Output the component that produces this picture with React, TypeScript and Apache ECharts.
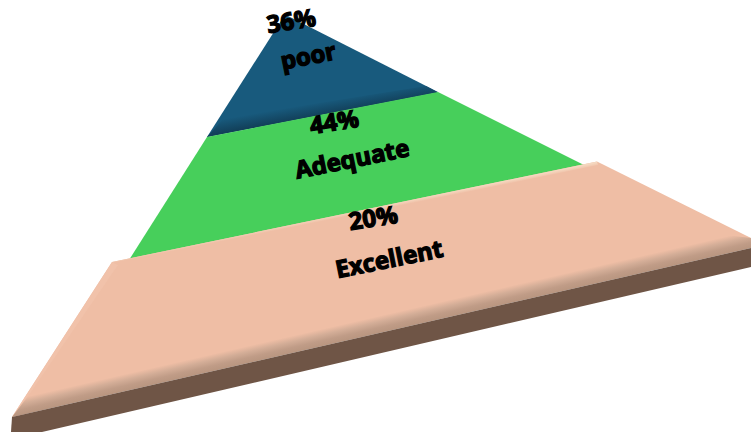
import React, { useEffect, useRef } from "react";
import * as echarts from "echarts";

// Tier names and the share printed on each tier, apex first.
const tierNames = ["poor", "Adequate", "Excellent"];
const tierShares = ["36%", "44%", "20%"];

// Outline corners of the tilted pyramid, in axis units.
const poorFace = [[285, 14.5], [438, 92], [207, 137]];
const poorShade = [[438, 92.5], [207, 137], [224, 118], [426, 86]];
const adequateFace = [[207, 137], [438, 92], [584, 165], [129, 260]];
const excellentFace = [[112, 262], [597, 161.5], [751, 238], [12, 417]];
const excellentBevel = [[12, 417], [28, 396.3], [730, 235.5], [751, 238], [751, 248]];
const excellentSide = [[12, 417], [751, 248], [751, 267], [42, 432], [11, 432]];
const excellentLeftEdge = [[112, 262], [118, 265], [28, 396.3], [12, 417]];
const excellentTopEdge = [[112, 262], [597, 161.5], [598, 165], [118, 265]];

// Label anchor points, two lines per tier.
const shareAnchors = [[291, 20], [334, 121], [373, 217]];
const nameAnchors = [[308, 55], [352, 158], [389, 258]];

const BLUE = "#185a7d";
const GREEN = "#47cf5b";
const PEACH = "#efbea5";

function poly(api: any, points: number[][], fill: any) {
  return {
    type: "polygon",
    shape: { points: points.map((p) => api.coord(p)) },
    style: { fill, stroke: null },
  };
}

function shade(api: any, from: number[], to: number[], stops: string[]) {
  const a = api.coord(from);
  const b = api.coord(to);
  return {
    type: "linear",
    global: true,
    x: a[0],
    y: a[1],
    x2: b[0],
    y2: b[1],
    colorStops: stops.map((color, i) => ({ offset: i / (stops.length - 1), color })),
  };
}

function renderTier(params: any, api: any) {
  const i = params.dataIndex;
  if (i === 0) {
    return {
      type: "group",
      children: [
        poly(api, poorFace, BLUE),
        poly(api, poorShade, shade(api, [320, 102], [322.3, 115], [BLUE, "#12405a"])),
      ],
    };
  }
  if (i === 1) {
    return { type: "group", children: [poly(api, adequateFace, GREEN)] };
  }
  return {
    type: "group",
    children: [
      poly(api, excellentFace, PEACH),
      poly(api, excellentLeftEdge, "#f1c2aa"),
      poly(api, excellentTopEdge, shade(api, [355, 211], [355.7, 214.5], ["#f5d8c0", PEACH])),
      poly(api, excellentBevel, shade(api, [366.2, 318.9], [370, 335.5], [PEACH, "#d3ad97", "#c09c87", "#b8957f"])),
      poly(api, excellentSide, "#6f5546"),
    ],
  };
}

function tierText(api: any, anchor: number[], text: string, tilt: number) {
  const c = api.coord(anchor);
  return {
    type: "text",
    x: c[0],
    y: c[1],
    rotation: tilt,
    style: {
      text,
      fill: "#000",
      stroke: "#000",
      lineWidth: 1.3,
      font: 'bold 24px "Open Sans", sans-serif',
      align: "center",
      verticalAlign: "middle",
    },
  };
}

function renderLabels(params: any, api: any) {
  const i = params.dataIndex;
  return {
    type: "group",
    children: [
      tierText(api, shareAnchors[i], tierShares[i], 0.16),
      tierText(api, nameAnchors[i], tierNames[i], 0.2),
    ],
  };
}

export default function App() {
  const ref = useRef<HTMLDivElement>(null);

  useEffect(() => {
    document.body.style.margin = "0";
    document.body.style.background = "#fff";
    const chart = echarts.init(ref.current!, undefined, { renderer: "svg" });
    const seriesData = tierNames.map((name, i) => ({ name, value: [i, parseInt(tierShares[i], 10)] }));
    chart.setOption({
      animation: false,
      backgroundColor: "#fff",
      grid: { left: 0, right: 0, top: 0, bottom: 0 },
      xAxis: { type: "value", min: 0, max: 751, show: false },
      yAxis: { type: "value", min: 0, max: 432, inverse: true, show: false },
      tooltip: { show: false },
      series: [
        { type: "custom", coordinateSystem: "cartesian2d", clip: false, silent: true, renderItem: renderTier, data: seriesData, z: 2 },
        { type: "custom", coordinateSystem: "cartesian2d", clip: false, silent: true, renderItem: renderLabels, data: seriesData, z: 3 },
      ],
    });
    return () => chart.dispose();
  }, []);

  return <div ref={ref} style={{ width: 751, height: 432 }} />;
}
